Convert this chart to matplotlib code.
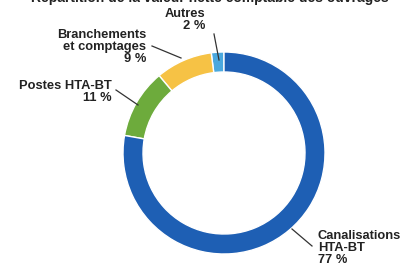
import matplotlib
matplotlib.use("Agg")
import matplotlib.pyplot as plt

labels = ["Autres", "Branchements\net comptages", "Postes HTA-BT", "Canalisations\nHTA-BT"]
values = [2, 9, 11, 77]
pct_labels = ["2 %", "9 %", "11 %", "77 %"]
colors = ["#4aa8de", "#f6c245", "#6dab3c", "#1e5fb4"]
title = "Répartition de la valeur nette comptable des ouvrages"

W, H = 403, 264
fig = plt.figure(figsize=(W / 100, H / 100), dpi=100)
ax = fig.add_axes([0, 0, 1, 1])

def P(x, y):
    return (x, H - y)

ax.pie(values, colors=colors, startangle=90, counterclock=True,
       center=P(224, 153), radius=101, frame=True,
       wedgeprops=dict(width=20, edgecolor="white", linewidth=1.0))
ax.set_xlim(0, W)
ax.set_ylim(0, H)
ax.set_aspect("auto")
ax.axis("off")

fs = 9.3
fig.text(0.52, 1.0 + 2 / H, title, ha="center", va="center", fontsize=10,
         fontweight="bold", family="Liberation Sans", color="#222222")

txt_kw = dict(fontsize=fs, fontweight="bold", family="Liberation Sans",
              color="#222222", linespacing=1.0)
ax.text(*P(205, 20), labels[0] + "\n" + pct_labels[0], ha="right", va="center", multialignment="right", **txt_kw)
ax.text(*P(146, 47), labels[1] + "\n" + pct_labels[1], ha="right", va="center", multialignment="right", **txt_kw)
ax.text(*P(112, 92), labels[2] + "\n" + pct_labels[2], ha="right", va="center", multialignment="right", **txt_kw)
ax.text(*P(318, 248), labels[3] + "\n" + pct_labels[3], ha="left", va="center", multialignment="left", **txt_kw)

line_kw = dict(color="#333333", lw=0.9)
for (x0, y0), (x1, y1) in [((214, 34), (219, 60)), ((152, 46), (181, 58)),
                            ((116, 90), (138, 105)), ((292, 229), (312, 246))]:
    ax.plot([P(x0, y0)[0], P(x1, y1)[0]], [P(x0, y0)[1], P(x1, y1)[1]], **line_kw)

fig.savefig("out.png", dpi=100)
